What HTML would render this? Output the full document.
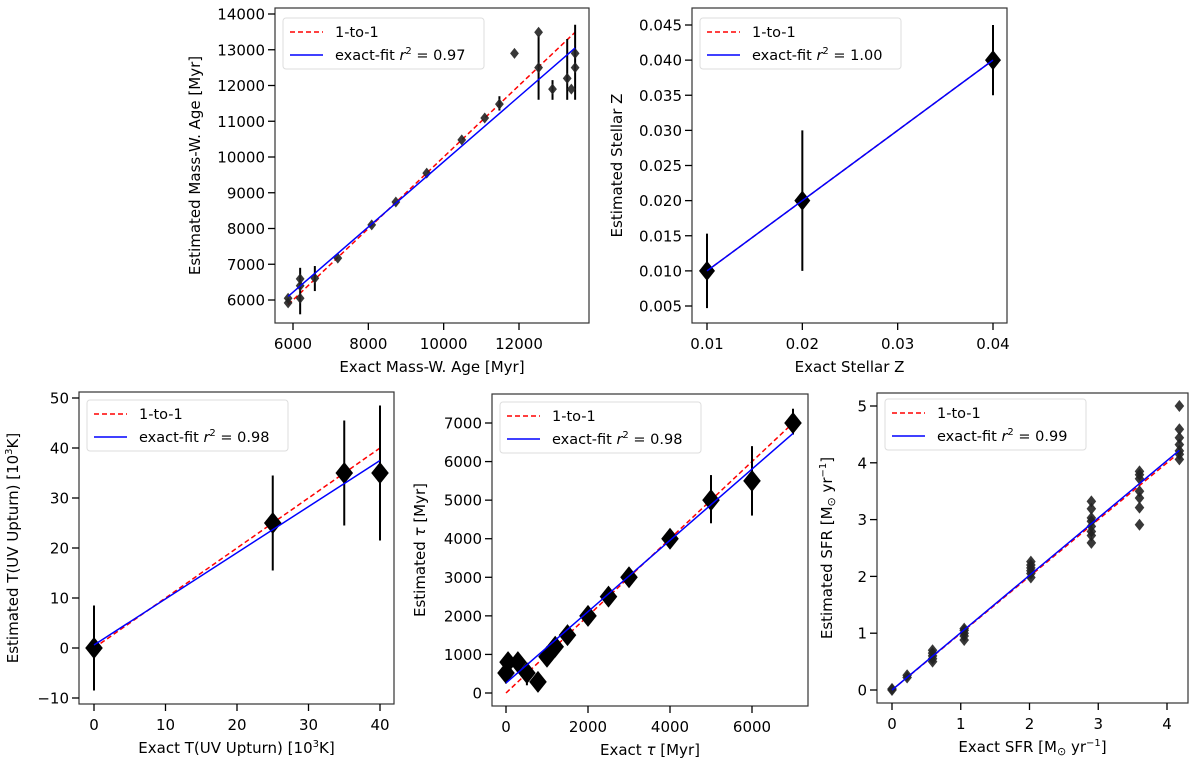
<!DOCTYPE html>
<html><head><meta charset="utf-8"><style>
body{margin:0;background:#fff;width:1200px;height:766px;overflow:hidden}
svg{font-family:"DejaVu Sans","Liberation Sans",sans-serif}
</style></head><body>
<svg id="fig" width="1200" height="766" xmlns="http://www.w3.org/2000/svg"></svg>
<script>
// ---- Panel 1: mass-weighted age ----
const ageX=[5870,5870,6190,6190,6190,6580,7190,8090,8730,9550,10480,11090,11480,11880,12520,12520,12890,13280,13390,13490,13490];
const ageY=[5920,6050,6590,6050,6400,6610,7170,8100,8740,9550,10480,11090,11480,12900,13490,12500,11900,12200,11900,12900,12500];
const ageLo=[null,null,6300,5600,null,6250,null,null,null,null,null,null,11300,null,null,11600,11600,11600,null,11600,null];
const ageHi=[null,null,6900,6300,null,6950,null,null,null,null,null,null,11700,null,null,13400,12150,13300,null,13700,null];
const ageFit=[[5870,6100],[13490,13050]];
const ageXTicks=[6000,8000,10000,12000];
const ageYTicks=[6000,7000,8000,9000,10000,11000,12000,13000,14000];
// ---- Panel 2: stellar Z ----
const zX=[0.01,0.02,0.04];
const zY=[0.01,0.02,0.04];
const zLo=[0.0047,0.010,0.035];
const zHi=[0.0153,0.030,0.045];
const zFit=[[0.01,0.01],[0.04,0.04]];
const zXTicks=[0.01,0.02,0.03,0.04];
const zYTicks=[0.005,0.010,0.015,0.020,0.025,0.030,0.035,0.040,0.045];
// ---- Panel 3: T(UV upturn) ----
const tX=[0,25,35,40];
const tY=[0,25,35,35];
const tLo=[-8.5,15.5,24.5,21.5];
const tHi=[8.5,34.5,45.5,48.5];
const tFit=[[0,0.6],[40,37.5]];
const tXTicks=[0,10,20,30,40];
const tYTicks=[-10,0,10,20,30,40,50];
// ---- Panel 4: tau ----
const tauX=[0,50,290,510,780,1000,1200,1500,2000,2500,3000,4000,5000,6000,7000];
const tauY=[520,800,800,520,290,940,1200,1500,2000,2500,3000,4000,5000,5500,7000];
const tauLo=[250,null,null,200,null,null,null,null,null,null,null,null,4400,4600,6700];
const tauHi=[750,null,null,700,null,null,null,null,null,null,null,null,5650,6400,7370];
const tauFit=[[0,260],[7000,6730]];
const tauXTicks=[0,2000,4000,6000];
const tauYTicks=[0,1000,2000,3000,4000,5000,6000,7000];
// ---- Panel 5: SFR ----
const sfrX=[0,0,0.22,0.22,0.59,0.59,0.59,0.59,0.59,1.05,1.05,1.05,1.05,1.05,2.02,2.02,2.02,2.02,2.02,2.02,2.9,2.9,2.9,2.9,2.9,2.9,2.9,2.9,3.6,3.6,3.6,3.6,3.6,3.6,3.6,4.18,4.18,4.18,4.18,4.18,4.18,4.18];
const sfrY=[0,0.02,0.22,0.26,0.5,0.55,0.6,0.65,0.7,0.88,0.95,1.0,1.05,1.08,1.98,2.05,2.1,2.15,2.2,2.26,3.32,3.19,3.03,2.97,2.88,2.79,2.72,2.59,3.85,3.79,3.72,3.5,3.38,3.21,2.91,5.0,4.59,4.44,4.32,4.21,4.15,4.06];
const sfrFit=[[0,0],[4.18,4.22]];
const sfrXTicks=[0,1,2,3,4];
const sfrYTicks=[0,1,2,3,4,5];

const NS="http://www.w3.org/2000/svg";
const fig=document.getElementById('fig');
function mk(tag,attrs,parent){const e=document.createElementNS(NS,tag);for(const k in attrs)e.setAttribute(k,attrs[k]);(parent||fig).appendChild(e);return e;}
function lin(d0,d1,p0,p1){return v=>p0+(v-d0)/(d1-d0)*(p1-p0);}

function panel(cfg){
  const g=mk('g',{});
  
  
  const sx=lin(cfg.xd[0],cfg.xd[1],cfg.xp[0],cfg.xp[1]);
  const sy=lin(cfg.yd[0],cfg.yd[1],cfg.yp[0],cfg.yp[1]);
  const b=cfg.box;
  const l1=mk('line',{x1:sx(cfg.oneLine[0]),y1:sy(cfg.oneLine[0]),x2:sx(cfg.oneLine[1]),y2:sy(cfg.oneLine[1]),stroke:'#ff0000','stroke-width':1.5,'stroke-dasharray':'5,3'},g);
  
  
  for(let i=0;i<cfg.X.length;i++){
    if(cfg.lo&&cfg.lo[i]!=null){
      const e=mk('line',{x1:sx(cfg.X[i]),x2:sx(cfg.X[i]),y1:sy(cfg.lo[i]),y2:sy(cfg.hi[i]),stroke:'#000','stroke-width':2},g);
      
      
    }
  }
  for(let i=0;i<cfg.X.length;i++){
    const x=sx(cfg.X[i]),y=sy(cfg.Y[i]),r=cfg.r;
    const p=mk('polygon',{points:`${x},${y-r} ${x+r*0.8},${y} ${x},${y+r} ${x-r*0.8},${y}`,fill:cfg.mc,'fill-opacity':cfg.ma},g);
    
    
  }
  const f=mk('line',{x1:sx(cfg.fit[0][0]),y1:sy(cfg.fit[0][1]),x2:sx(cfg.fit[1][0]),y2:sy(cfg.fit[1][1]),stroke:'#0000ff','stroke-width':1.5},g);
  
  
  const rc=mk('rect',{x:b[0],y:b[1],width:b[2]-b[0],height:b[3]-b[1],fill:'none',stroke:'#333','stroke-width':1.2},g);
  
  
  cfg.xt.forEach((v,i)=>{const x=sx(v);mk('line',{x1:x,x2:x,y1:b[3],y2:b[3]+7,stroke:'#000','stroke-width':1.3},g);
    const t=mk('text',{x:x,y:b[3]+26,'text-anchor':'middle','font-size':15,fill:'#000'},g);t.textContent=cfg.xl[i];
    
    });
  cfg.yt.forEach((v,i)=>{const y=sy(v);mk('line',{x1:b[0]-7,x2:b[0],y1:y,y2:y,stroke:'#000','stroke-width':1.3},g);
    const t=mk('text',{x:b[0]-10,y:y+5.5,'text-anchor':'end','font-size':15,fill:'#000'},g);t.textContent=cfg.yl[i];
    
    });
  const xt=mk('text',{x:(b[0]+b[2])/2,y:b[3]+49,'text-anchor':'middle','font-size':15},g);xt.innerHTML=cfg.xlabel;
  
  
  const yt=mk('text',{x:0,y:0,'text-anchor':'middle','font-size':15,transform:`translate(${cfg.ylx},${(b[1]+b[3])/2}) rotate(-90)`},g);yt.innerHTML=cfg.ylabel;
  
  
  const L=cfg.leg;
  const lg=mk('g',{},g);
  
  
  mk('rect',{x:L[0],y:L[1],width:201,height:51,rx:3,fill:'#fff','fill-opacity':0.85,stroke:'#ddd'},lg);
  mk('line',{x1:L[0]+7,x2:L[0]+40,y1:L[1]+14,y2:L[1]+14,stroke:'#f00','stroke-width':1.5,'stroke-dasharray':'5,3'},lg);
  mk('line',{x1:L[0]+7,x2:L[0]+40,y1:L[1]+37,y2:L[1]+37,stroke:'#00f','stroke-width':1.5},lg);
  const a=mk('text',{x:L[0]+52,y:L[1]+19,'font-size':14.5},lg);a.textContent='1-to-1';
  
  
  const c=mk('text',{x:L[0]+52,y:L[1]+42,'font-size':14.5},lg);
  c.innerHTML='exact-fit <tspan font-style="italic">r</tspan><tspan font-size="10" dy="-6">2</tspan><tspan dy="6"> = '+cfg.r2+'</tspan>';
  
  
}

panel({name:'panel-mass-weighted-age',X:ageX,Y:ageY,lo:ageLo,hi:ageHi,fit:ageFit,oneLine:[5870,13490],
  xd:[6000,12000],xp:[293,519],yd:[6000,14000],yp:[300,14],box:[275,8,589,323],
  xt:ageXTicks,xl:ageXTicks.map(String),yt:ageYTicks,yl:ageYTicks.map(String),r:5.5,mc:'#222',ma:0.9,
  xlabel:'Exact Mass-W. Age [Myr]',ylabel:'Estimated Mass-W. Age [Myr]',ylx:200,leg:[283,18],r2:'0.97'});
panel({name:'panel-stellar-z',X:zX,Y:zY,lo:zLo,hi:zHi,fit:zFit,oneLine:[0.01,0.04],
  xd:[0.01,0.04],xp:[707,993],yd:[0.005,0.045],yp:[306,25],box:[692,8,1007,323],
  xt:zXTicks,xl:zXTicks.map(v=>v.toFixed(2)),yt:zYTicks,yl:zYTicks.map(v=>v.toFixed(3)),r:10,mc:'#000',ma:1,
  xlabel:'Exact Stellar Z',ylabel:'Estimated Stellar Z',ylx:622,leg:[700,18],r2:'1.00'});
panel({name:'panel-uv-upturn-temperature',X:tX,Y:tY,lo:tLo,hi:tHi,fit:tFit,oneLine:[0,40],
  xd:[0,40],xp:[94,380],yd:[0,50],yp:[648,398],box:[79,392,394,704],
  xt:tXTicks,xl:tXTicks.map(String),yt:tYTicks,yl:tYTicks.map(v=>v<0?'\u2212'+(-v):String(v)),r:11,mc:'#000',ma:1,
  xlabel:'Exact T(UV Upturn) [10<tspan font-size="10" dy="-6">3</tspan><tspan dy="6">K]</tspan>',
  ylabel:'Estimated T(UV Upturn) [10<tspan font-size="10" dy="-6">3</tspan><tspan dy="6">K]</tspan>',ylx:18,leg:[87,400],r2:'0.98'});
panel({name:'panel-tau',X:tauX,Y:tauY,lo:tauLo,hi:tauHi,fit:tauFit,oneLine:[0,7000],
  xd:[0,6000],xp:[506,752],yd:[0,7000],yp:[693,423],box:[492,394,808,706],
  xt:tauXTicks,xl:tauXTicks.map(String),yt:tauYTicks,yl:tauYTicks.map(String),r:11,mc:'#000',ma:1,
  xlabel:'Exact <tspan font-style="italic">τ</tspan> [Myr]',ylabel:'Estimated <tspan font-style="italic">τ</tspan> [Myr]',ylx:425,leg:[500,402],r2:'0.98'});
panel({name:'panel-sfr',X:sfrX,Y:sfrY,lo:null,hi:null,fit:sfrFit,oneLine:[0,4.1],
  xd:[0,4],xp:[892,1167],yd:[0,5],yp:[690,406],box:[877,393,1188,703],
  xt:sfrXTicks,xl:sfrXTicks.map(String),yt:sfrYTicks,yl:sfrYTicks.map(String),r:6,mc:'#222',ma:0.9,
  xlabel:'Exact SFR [M<tspan font-size="11" dy="3">⊙</tspan><tspan dy="-3"> yr</tspan><tspan font-size="10" dy="-6">−1</tspan><tspan dy="6">]</tspan>',
  ylabel:'Estimated SFR [M<tspan font-size="11" dy="3">⊙</tspan><tspan dy="-3"> yr</tspan><tspan font-size="10" dy="-6">−1</tspan><tspan dy="6">]</tspan>',ylx:832,leg:[885,399],r2:'0.99'});
</script>
</body></html>
